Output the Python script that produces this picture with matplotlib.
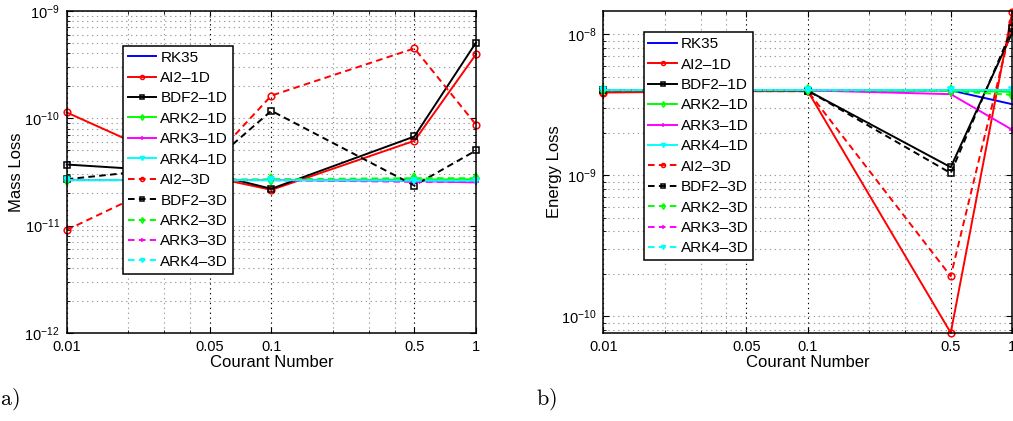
import matplotlib
matplotlib.use("Agg")
import math
import matplotlib.pyplot as plt
from matplotlib.ticker import FixedLocator, LogLocator, FuncFormatter, NullFormatter

plt.rcParams['font.family'] = ['Liberation Sans', 'DejaVu Sans']
plt.rcParams['mathtext.fontset'] = 'custom'
plt.rcParams['mathtext.rm'] = 'Liberation Sans'
plt.rcParams['mathtext.it'] = 'Liberation Sans:italic'

# ---------------- data ----------------
courant = [0.01, 0.05, 0.1, 0.5, 1.0]
xtick_labels = ['0.01', '0.05', '0.1', '0.5', '1']
series_names = ['RK35', 'AI2–1D', 'BDF2–1D', 'ARK2–1D', 'ARK3–1D', 'ARK4–1D',
                'AI2–3D', 'BDF2–3D', 'ARK2–3D', 'ARK3–3D', 'ARK4–3D']

# Mass loss (panel a)
mass_rk35    = [2.65e-11, 2.65e-11, 2.65e-11, 2.65e-11, 2.65e-11]
mass_ai2_1d  = [1.13e-10, 2.85e-11, 2.15e-11, 6.15e-11, 3.93e-10]
mass_bdf2_1d = [3.70e-11, 3.05e-11, 2.20e-11, 6.75e-11, 5.05e-10]
mass_ark2_1d = [2.65e-11, 2.65e-11, 2.65e-11, 2.68e-11, 2.70e-11]
mass_ark3_1d = [2.65e-11, 2.65e-11, 2.65e-11, 2.60e-11, 2.52e-11]
mass_ark4_1d = [2.65e-11, 2.65e-11, 2.65e-11, 2.62e-11, 2.60e-11]
mass_ai2_3d  = [9.10e-12, 3.90e-11, 1.62e-10, 4.46e-10, 8.70e-11]
mass_bdf2_3d = [2.70e-11, 3.72e-11, 1.17e-10, 2.36e-11, 5.00e-11]
mass_ark2_3d = [2.65e-11, 2.68e-11, 2.70e-11, 2.76e-11, 2.76e-11]
mass_ark3_3d = [2.65e-11, 2.65e-11, 2.65e-11, 2.55e-11, 2.55e-11]
mass_ark4_3d = [2.65e-11, 2.65e-11, 2.65e-11, 2.62e-11, 2.62e-11]

# Energy loss (panel b)
en_rk35    = [4.00e-9, 4.00e-9, 4.00e-9, 4.00e-9, 3.19e-9]
en_ai2_1d  = [3.86e-9, 3.95e-9, 3.95e-9, 7.62e-11, 1.45e-8]
en_bdf2_1d = [4.00e-9, 4.00e-9, 3.98e-9, 1.14e-9, 1.03e-8]
en_ark2_1d = [4.00e-9, 4.00e-9, 4.00e-9, 4.00e-9, 3.90e-9]
en_ark3_1d = [4.00e-9, 4.00e-9, 4.00e-9, 3.76e-9, 2.10e-9]
en_ark4_1d = [4.03e-9, 4.03e-9, 4.03e-9, 4.03e-9, 4.03e-9]
en_ai2_3d  = [3.90e-9, 3.95e-9, 3.95e-9, 1.92e-10, 1.22e-8]
en_bdf2_3d = [4.00e-9, 4.00e-9, 3.98e-9, 1.035e-9, 1.10e-8]
en_ark2_3d = [4.00e-9, 4.00e-9, 4.00e-9, 3.95e-9, 3.72e-9]
en_ark3_3d = [4.00e-9, 4.00e-9, 4.00e-9, 4.00e-9, 4.00e-9]
en_ark4_3d = [4.03e-9, 4.03e-9, 4.03e-9, 4.03e-9, 4.03e-9]

mass_series = [mass_rk35, mass_ai2_1d, mass_bdf2_1d, mass_ark2_1d, mass_ark3_1d, mass_ark4_1d,
               mass_ai2_3d, mass_bdf2_3d, mass_ark2_3d, mass_ark3_3d, mass_ark4_3d]
energy_series = [en_rk35, en_ai2_1d, en_bdf2_1d, en_ark2_1d, en_ark3_1d, en_ark4_1d,
                 en_ai2_3d, en_bdf2_3d, en_ark2_3d, en_ark3_3d, en_ark4_3d]

# ---------------- styles ----------------
colors = ['#0000ff', '#ff0000', '#000000', '#00ff00', '#ff00ff', '#00ffff',
          '#ff0000', '#000000', '#00ff00', '#ff00ff', '#00ffff']
markers = [None, 'o', 's', 'd', '+', 'v', 'o', 's', 'd', '+', 'v']
dashed = [False] * 6 + [True] * 5

W, H = 1013, 421
fig = plt.figure(figsize=(W / 100, H / 100), dpi=100)

ax_a = fig.add_axes([66.7 / W, (H - 333) / H, (476 - 66.7) / W, (333 - 10.7) / H])
ax_b = fig.add_axes([603.3 / W, (H - 333) / H, (1012.3 - 603.3) / W, (333 - 10.7) / H])


def sci(v, pos):
    e = int(round(math.log10(v)))
    return r'$10^{%d}$' % e


def draw(ax, data, ylim, ylabel, label_x):
    for vals, name, c, m, d in zip(data, series_names, colors, markers, dashed):
        kw = dict(color=c, lw=1.4, label=name, clip_on=False)
        if m is not None:
            kw['marker'] = m
            kw['markersize'] = 4.8
            if m == 'v':
                kw['markerfacecolor'] = c
            elif m != '+':
                kw['markerfacecolor'] = 'none'
            kw['markeredgewidth'] = 1.1
        line, = ax.plot(courant, vals, **kw)
        if d:
            line.set_dashes((3.4, 2.2))
    ax.set_xscale('log')
    ax.set_yscale('log')
    ax.set_xlim(0.01, 1)
    ax.set_ylim(*ylim)
    ax.xaxis.set_major_locator(FixedLocator(courant))
    ax.set_xticklabels(xtick_labels)
    ax.xaxis.set_minor_locator(FixedLocator([0.02, 0.03, 0.04, 0.2, 0.3, 0.4]))
    ax.xaxis.set_minor_formatter(NullFormatter())
    ax.yaxis.set_major_locator(LogLocator(base=10, numticks=20))
    ax.yaxis.set_major_formatter(FuncFormatter(sci))
    ax.yaxis.set_minor_locator(LogLocator(base=10, subs=[2, 3, 4, 5, 6, 7, 8, 9], numticks=20))
    ax.yaxis.set_minor_formatter(NullFormatter())
    ax.tick_params(which='both', direction='in', top=True, right=True, labelsize=10.5,
                   color='black')
    ax.tick_params(which='major', length=4, width=0.8, pad=5)
    ax.tick_params(which='minor', length=2, width=0.6)
    ax.grid(True, which='major', axis='x', color='black', lw=0.8, dashes=(1.2, 3.2))
    ax.grid(True, which='minor', axis='x', color='#9a9a9a', lw=0.8, dashes=(1.2, 3.2))
    ax.grid(True, which='both', axis='y', color='#9a9a9a', lw=0.8, dashes=(1.2, 3.2))
    ax.set_axisbelow(True)
    for s in ax.spines.values():
        s.set_linewidth(1.1)
        s.set_color('black')
    ax.set_xlabel('Courant Number', fontsize=12, labelpad=1)
    ax.set_ylabel(ylabel, fontsize=12)
    ax.yaxis.set_label_coords(label_x, 0.5)


draw(ax_a, mass_series, (1e-12, 1e-9), 'Mass Loss', -0.105)
draw(ax_b, energy_series, (7.6e-11, 1.47e-8), 'Energy Loss', -0.101)


def legend(ax, x0, y0):
    leg = ax.legend(loc='upper left', bbox_to_anchor=(x0 / W, 1 - y0 / H),
                    bbox_transform=fig.transFigure, fontsize=11, frameon=True,
                    fancybox=False, edgecolor='black', framealpha=1,
                    handlelength=1.85, handletextpad=0.25, labelspacing=0.42,
                    borderpad=0.32, borderaxespad=0, markerscale=0.6)
    leg.get_frame().set_linewidth(1.1)
    return leg


legend(ax_a, 123.3, 45.7)
legend(ax_b, 643.5, 32.3)

fig.text(0.0 / W, 1 - 399 / H, r'$\mathrm{a)}$', fontsize=16, va='center', ha='left',
         math_fontfamily='cm')
fig.text(536 / W, 1 - 399 / H, r'$\mathrm{b)}$', fontsize=16, va='center', ha='left',
         math_fontfamily='cm')

fig.savefig('out.png', dpi=100)
